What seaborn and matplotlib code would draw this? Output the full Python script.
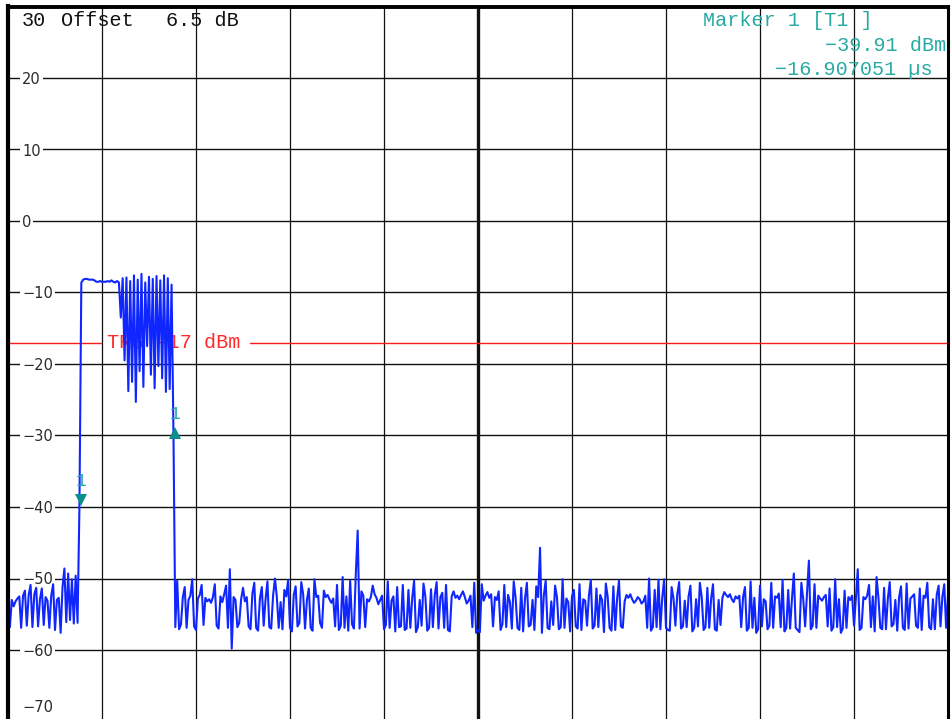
import numpy as np
import pandas as pd
import matplotlib
matplotlib.use("Agg")
import matplotlib.pyplot as plt
import matplotlib.transforms as mtransforms
import seaborn as sns

# ---------------- data ----------------
sweep_start_us = -20.0
sweep_stop_us = 20.0

pre_noise_dbm = [-52.6, -56.8, -53.0, -53.9, -53.2, -52.8, -52.5, -56.9, -52.4, -51.7,
                 -56.6, -52.3, -50.9, -56.8, -52.2, -51.3, -56.7, -52.9, -51.4, -56.5,
                 -52.6, -53.1, -56.9, -52.4, -50.8, -57.2, -53.0, -52.7, -57.6, -51.2,
                 -48.6, -56.1, -49.3, -55.8, -50.1, -56.3, -49.6, -56.2]
edge_rise_dbm = [-39.9]
burst_flat_dbm = [-8.6, -8.2, -8.1, -8.1, -8.2, -8.2, -8.2, -8.3, -8.5, -8.5,
                  -8.4, -8.5, -8.5, -8.5, -8.4, -8.5, -8.3, -8.5, -8.6, -8.4]
burst_mod_dbm = [-8.6, -13.5, -8.0, -19.5, -7.9, -23.8, -8.4, -22.5, -7.6, -25.3,
                 -8.2, -21.0, -7.4, -23.2, -8.6, -17.5, -7.8, -21.5, -8.1, -23.4,
                 -7.7, -20.3, -8.3, -22.0, -7.6, -23.9, -8.0, -23.5, -8.9]
edge_fall_dbm = [-29.5]
post_noise_dbm = [
    -56.8, -50.3, -57.1, -56.4, -52.6, -51.2, -56.9, -53.0, -52.4, -50.1, -56.7, -57.2, -52.8, -52.3, -50.9, -56.5, -52.7, -53.2, -52.9, -53.4,
    -52.6, -50.8, -56.6, -57.0, -52.5, -53.3, -52.2, -51.0, -56.9, -48.7, -59.8, -52.6, -53.0, -56.8, -56.2, -52.9, -51.3, -53.2, -52.6, -56.7,
    -57.1, -52.1, -50.6, -56.9, -57.3, -52.8, -51.2, -56.6, -52.9, -50.4, -56.8, -57.0, -52.4, -50.0, -52.6, -56.9, -53.3, -57.1, -51.6, -52.5,
    -50.2, -56.9, -57.4, -52.3, -51.1, -56.7, -56.2, -50.5, -52.2, -57.0, -53.0, -51.4, -56.9, -57.3, -50.1, -52.6, -52.4, -56.2, -56.9, -51.7,
    -52.6, -52.3, -52.9, -53.4, -52.8, -56.7, -50.9, -57.2, -56.6, -49.8, -56.9, -52.5, -57.3, -50.3, -56.4, -57.0, -49.4, -43.3, -57.0, -51.8,
    -52.4, -56.8, -52.9, -53.2, -52.6, -51.0, -52.2, -52.7, -53.6, -53.0, -52.4, -57.1, -56.5, -50.4, -56.9, -53.1, -52.5, -57.4, -51.2, -56.8,
    -56.7, -50.9, -57.2, -57.0, -51.6, -56.9, -52.8, -50.3, -57.5, -56.8, -53.0, -56.6, -50.7, -52.5, -57.3, -56.9, -51.5, -56.8, -52.3, -50.5,
    -57.0, -52.6, -52.0, -56.9, -50.9, -57.2, -57.4, -52.5, -51.8, -52.7, -52.4, -52.9, -52.3, -51.8, -52.6, -53.5, -53.1, -52.4, -56.8, -50.6,
    -57.6, -57.2, -57.5, -50.8, -53.1, -52.4, -51.9, -52.7, -52.2, -56.7, -52.6, -53.0, -51.8, -57.2, -56.4, -50.9, -56.8, -52.3, -53.3, -57.0,
    -50.4, -52.7, -56.9, -57.2, -51.3, -57.4, -52.8, -50.6, -56.7, -56.5, -53.0, -57.2, -51.1, -52.6, -45.7, -57.6, -52.4, -50.3, -56.9, -57.1,
    -53.2, -56.5, -51.0, -52.6, -57.1, -56.8, -50.1, -56.9, -52.8, -53.3, -57.4, -52.5, -51.6, -56.7, -57.0, -50.8, -57.2, -52.9, -53.1, -56.6,
    -52.4, -50.2, -57.0, -56.6, -51.4, -56.8, -52.3, -53.0, -57.5, -50.7, -52.6, -56.9, -57.3, -51.1, -57.2, -52.8, -50.3, -56.7, -56.9, -53.2,
    -52.3, -52.7, -52.2, -52.9, -53.4, -53.1, -52.6, -52.9, -53.5, -53.2, -52.4, -56.9, -50.0, -57.3, -56.8, -51.6, -56.8, -50.2, -57.1, -52.7,
    -50.1, -56.9, -57.2, -57.3, -51.2, -52.8, -56.6, -52.2, -50.5, -57.0, -56.7, -53.1, -56.8, -52.5, -51.0, -57.4, -56.9, -52.9, -56.7, -50.6,
    -52.6, -57.2, -56.8, -51.3, -56.9, -52.8, -50.8, -57.1, -57.3, -53.0, -56.5, -52.7, -51.9, -52.3, -52.6, -52.2, -52.9, -53.3, -52.5, -52.8,
    -52.4, -56.8, -52.6, -51.2, -57.3, -56.9, -50.4, -56.9, -52.7, -57.6, -57.1, -51.0, -56.7, -52.9, -53.2, -57.1, -56.6, -50.6, -56.9, -52.5,
    -52.7, -52.1, -56.8, -50.2, -57.4, -56.9, -51.6, -57.0, -52.8, -49.3, -56.9, -57.2, -57.5, -50.6, -52.9, -56.7, -52.2, -47.5, -57.1, -56.6,
    -50.8, -56.9, -52.4, -52.8, -53.1, -52.6, -52.3, -56.7, -51.4, -57.3, -56.8, -50.1, -56.8, -52.9, -57.6, -57.0, -51.7, -56.9, -52.6, -53.0,
    -52.4, -56.6, -52.8, -48.7, -57.2, -56.9, -52.6, -52.9, -52.4, -50.9, -56.8, -52.5, -57.4, -49.8, -52.7, -56.9, -57.1, -51.3, -57.1, -52.8,
    -50.5, -56.7, -56.4, -53.0, -57.3, -52.6, -51.1, -56.9, -57.2, -50.7, -57.0, -52.8, -52.5, -52.2, -56.6, -56.9, -51.4, -57.2, -52.4, -52.7,
    -50.6, -56.8, -57.1, -52.9, -57.1, -52.3, -51.0, -56.7, -52.6, -50.8, -56.9, -52.4]

marker_time_us = [-16.907051, -12.89]
marker_level_dbm = [-39.91, -29.6]
marker_labels = ["1", "1"]
trigger_dbm = -17.0
trigger_label = "TRG -17 dBm"
ytick_values = [20, 10, 0, -10, -20, -30, -40, -50, -60, -70]
ytick_labels = ["20", "10", "0", "\u221210", "\u221220", "\u221230", "\u221240", "\u221250", "\u221260", "\u221270"]
xgrid_values = [-16, -12, -8, -4, 0, 4, 8, 12, 16]
ref_level_label = "30"
offset_label = "Offset"
offset_value_label = "6.5 dB"
marker_info = ["Marker 1 [T1 ]", "\u221239.91 dBm", "\u221216.907051 \u00b5s"]

level_dbm = pre_noise_dbm + edge_rise_dbm + burst_flat_dbm + burst_mod_dbm + edge_fall_dbm + post_noise_dbm
time_us = np.linspace(sweep_start_us, sweep_stop_us, len(level_dbm))
df = pd.DataFrame({"time_us": time_us, "level_dbm": level_dbm})

# ---------------- styling ----------------
sns.set_style("white")
plt.rcParams["font.family"] = ["DejaVu Sans"]

W, H = 953, 719
fig = plt.figure(figsize=(W / 100, H / 100), dpi=100)
ax_l, ax_r, ax_t, ax_b = 8, 948, 6.5, 721.5
ax = fig.add_axes([ax_l / W, (H - ax_b) / H, (ax_r - ax_l) / W, (ax_b - ax_t) / H])
ax.set_xlim(sweep_start_us, sweep_stop_us)
ax.set_ylim(-70, 30)
ax.set_xticks([])
ax.set_yticks([])

mono = "Liberation Mono"
teal_text = "#26aaa2"
teal_marker = "#0b8f8c"
trace_blue = "#0f26ff"
FS = 14.5

def ax_xy(px, py):
    return ((px - ax_l) / (ax_r - ax_l), 1 - (py - ax_t) / (ax_b - ax_t))

# grid
for v in ytick_values:
    ax.axhline(v, color="#111111", lw=1.0, zorder=1)
for v in xgrid_values:
    ax.axvline(v, color="#111111", lw=2.4 if v == 0 else 0.9, zorder=1)

# y tick labels inside the plot
blend = mtransforms.blended_transform_factory(ax.transAxes, ax.transData)
for v, lab in zip(ytick_values, ytick_labels):
    yv = max(v, -67.9)
    ax.text(ax_xy(22, 0)[0], yv, lab, transform=blend, ha="left", va="center_baseline",
            fontsize=10.5, color="#2a2a2a", zorder=2,
            bbox=dict(facecolor="white", edgecolor="none", pad=1.5))

# trigger line, interrupted around its label
gap_l, gap_r = ax_xy(101, 0)[0], ax_xy(250, 0)[0]
ax.axhline(trigger_dbm, xmin=0, xmax=gap_l, color="#ff1a1a", lw=1.0, zorder=2)
ax.axhline(trigger_dbm, xmin=gap_r, xmax=1, color="#ff1a1a", lw=1.0, zorder=2)
tx = ax_xy(107, 0)[0]
ax.text(tx, trigger_dbm - 0.8, trigger_label, transform=blend, ha="left", va="baseline",
        fontsize=FS, family=mono, color="#ff2a2a", zorder=2.5)

# trace
sns.lineplot(data=df, x="time_us", y="level_dbm", color=trace_blue, linewidth=1.5,
             ax=ax, zorder=3, estimator=None, sort=False)
ax.set_xlabel("")
ax.set_ylabel("")

# markers
shapes = ["v", "^"]
offsets = [6, 0]
for t, lv, lab, shp, off in zip(marker_time_us, marker_level_dbm, marker_labels, shapes, offsets):
    tr = ax.transData + mtransforms.ScaledTranslation(0, off / 100, fig.dpi_scale_trans)
    ax.plot([t], [lv], marker=shp, markersize=8.5, color=teal_marker, transform=tr, zorder=4,
            markeredgewidth=0)
    tr2 = ax.transData + mtransforms.ScaledTranslation(0, (off + 14) / 100, fig.dpi_scale_trans)
    ax.text(t, lv, lab, transform=tr2, ha="center", va="baseline", fontsize=13,
            family=mono, color=teal_text, zorder=4)

# header texts
for px, s in [(22, ref_level_label), (61, offset_label), (166, offset_value_label)]:
    x, y = ax_xy(px, 26)
    ax.text(x, y, s, transform=ax.transAxes, ha="left", va="baseline", fontsize=FS,
            family=mono, color="#111111", zorder=5)

x, y = ax_xy(703, 26)
ax.text(x, y, marker_info[0], transform=ax.transAxes, ha="left", va="baseline",
        fontsize=FS, family=mono, color=teal_text, zorder=5)
x, y = ax_xy(946, 51)
ax.text(x, y, marker_info[1], transform=ax.transAxes, ha="right", va="baseline",
        fontsize=FS, family=mono, color=teal_text, zorder=5)
x, y = ax_xy(933, 75)
ax.text(x, y, marker_info[2], transform=ax.transAxes, ha="right", va="baseline",
        fontsize=FS, family=mono, color=teal_text, zorder=5)

# frame
for side, lw in [("left", 3.0), ("top", 2.8), ("right", 2.2), ("bottom", 2.0)]:
    ax.spines[side].set_visible(True)
    ax.spines[side].set_color("black")
    ax.spines[side].set_linewidth(lw)
    ax.spines[side].set_zorder(6)

fig.savefig("out.png", dpi=100)
